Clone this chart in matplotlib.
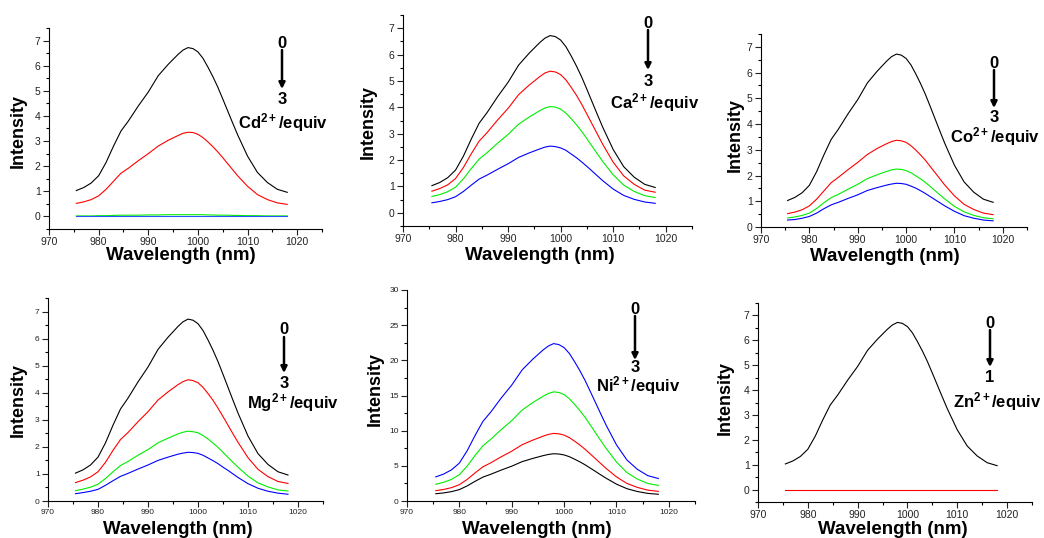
import matplotlib
matplotlib.use('Agg')
import matplotlib.pyplot as plt
from matplotlib.ticker import MultipleLocator

plt.rcParams['font.family'] = ['Liberation Sans', 'DejaVu Sans']
plt.rcParams['mathtext.fontset'] = 'custom'
plt.rcParams['mathtext.rm'] = 'Liberation Sans:bold'
plt.rcParams['mathtext.it'] = 'Liberation Sans:bold'
plt.rcParams['mathtext.bf'] = 'Liberation Sans:bold'
plt.rcParams['mathtext.default'] = 'bf'

# wavelength grid (nm)
wavelength = [975.5, 977, 978.5, 980, 981.5, 983, 984.5, 986, 988, 990, 992, 994,
              996, 997, 998, 999, 1000, 1001, 1002, 1003, 1004, 1005, 1006, 1007,
              1008, 1010, 1012, 1014, 1016, 1018]

# free probe (0 equiv), identical in every panel
probe = [1.03, 1.15, 1.33, 1.62, 2.15, 2.80, 3.40, 3.80, 4.40, 4.95, 5.60, 6.05,
         6.45, 6.62, 6.72, 6.68, 6.55, 6.30, 5.95, 5.57, 5.15, 4.68, 4.20, 3.72,
         3.25, 2.40, 1.75, 1.35, 1.08, 0.96]

cd_red = [0.52, 0.58, 0.67, 0.82, 1.08, 1.40, 1.72, 1.92, 2.22, 2.50, 2.80, 3.03,
          3.22, 3.31, 3.35, 3.34, 3.27, 3.14, 2.97, 2.78, 2.57, 2.34, 2.10, 1.86,
          1.62, 1.20, 0.87, 0.67, 0.54, 0.48]
cd_green = [0.02, 0.02, 0.02, 0.03, 0.03, 0.04, 0.05, 0.05, 0.05, 0.06, 0.06, 0.07,
            0.07, 0.07, 0.07, 0.07, 0.07, 0.07, 0.06, 0.06, 0.05, 0.05, 0.05, 0.04,
            0.04, 0.03, 0.03, 0.02, 0.02, 0.02]
cd_blue = [0.01] * 30

ca_red = [0.82, 0.92, 1.06, 1.30, 1.72, 2.24, 2.72, 3.04, 3.52, 3.96, 4.48, 4.84,
          5.16, 5.30, 5.37, 5.34, 5.24, 5.04, 4.76, 4.46, 4.12, 3.74, 3.36, 2.98,
          2.60, 1.92, 1.40, 1.08, 0.86, 0.78]
ca_green = [0.62, 0.69, 0.80, 0.97, 1.29, 1.68, 2.04, 2.28, 2.64, 2.97, 3.36, 3.63,
            3.87, 3.97, 4.03, 4.01, 3.93, 3.78, 3.57, 3.34, 3.09, 2.81, 2.52, 2.23,
            1.95, 1.44, 1.05, 0.81, 0.65, 0.58]
ca_blue = [0.38, 0.43, 0.50, 0.61, 0.81, 1.05, 1.28, 1.43, 1.65, 1.86, 2.10, 2.27,
           2.42, 2.49, 2.53, 2.51, 2.46, 2.37, 2.23, 2.09, 1.93, 1.76, 1.58, 1.40,
           1.22, 0.90, 0.66, 0.51, 0.41, 0.36]

co_red = [0.52, 0.58, 0.67, 0.82, 1.08, 1.40, 1.72, 1.93, 2.23, 2.51, 2.82, 3.05,
          3.24, 3.32, 3.37, 3.35, 3.29, 3.16, 2.99, 2.80, 2.59, 2.35, 2.11, 1.87,
          1.63, 1.21, 0.88, 0.68, 0.54, 0.48]
co_green = [0.35, 0.39, 0.45, 0.54, 0.72, 0.94, 1.14, 1.27, 1.47, 1.66, 1.88, 2.03,
            2.16, 2.22, 2.25, 2.24, 2.19, 2.11, 1.99, 1.87, 1.73, 1.57, 1.41, 1.25,
            1.09, 0.80, 0.59, 0.45, 0.36, 0.32]
co_blue = [0.27, 0.29, 0.34, 0.41, 0.54, 0.71, 0.86, 0.96, 1.11, 1.25, 1.42, 1.53,
           1.63, 1.67, 1.70, 1.69, 1.66, 1.59, 1.51, 1.41, 1.30, 1.18, 1.06, 0.94,
           0.82, 0.61, 0.44, 0.34, 0.27, 0.24]

mg_red = [0.68, 0.77, 0.89, 1.08, 1.43, 1.87, 2.27, 2.53, 2.93, 3.30, 3.73, 4.03,
          4.30, 4.41, 4.48, 4.45, 4.37, 4.20, 3.97, 3.72, 3.43, 3.12, 2.80, 2.48,
          2.17, 1.60, 1.17, 0.90, 0.72, 0.65]
mg_green = [0.38, 0.44, 0.51, 0.62, 0.83, 1.08, 1.31, 1.46, 1.69, 1.90, 2.15, 2.32,
            2.48, 2.54, 2.58, 2.56, 2.52, 2.42, 2.29, 2.14, 1.98, 1.80, 1.61, 1.43,
            1.25, 0.92, 0.67, 0.52, 0.41, 0.37]
mg_blue = [0.27, 0.31, 0.36, 0.43, 0.58, 0.75, 0.91, 1.02, 1.18, 1.33, 1.50, 1.62,
           1.73, 1.77, 1.80, 1.79, 1.76, 1.69, 1.59, 1.49, 1.38, 1.25, 1.13, 1.00,
           0.87, 0.64, 0.47, 0.36, 0.29, 0.25]

ni_red = [1.47, 1.64, 1.90, 2.32, 3.07, 4.00, 4.86, 5.43, 6.29, 7.08, 8.01, 8.65,
          9.22, 9.47, 9.61, 9.55, 9.37, 9.01, 8.51, 7.97, 7.36, 6.69, 6.01, 5.32,
          4.65, 3.43, 2.50, 1.93, 1.54, 1.37]
ni_green = [2.38, 2.66, 3.07, 3.74, 4.97, 6.47, 7.85, 8.78, 10.16, 11.43, 12.94, 13.98,
            14.90, 15.29, 15.52, 15.43, 15.13, 14.55, 13.74, 12.87, 11.90, 10.81, 9.70, 8.59,
            7.51, 5.54, 4.04, 3.12, 2.49, 2.22]
ni_blue = [3.43, 3.83, 4.43, 5.39, 7.16, 9.32, 11.32, 12.65, 14.65, 16.48, 18.65, 20.15,
           21.48, 22.04, 22.38, 22.24, 21.81, 20.98, 19.81, 18.55, 17.15, 15.58, 13.99, 12.39,
           10.82, 7.99, 5.83, 4.50, 3.60, 3.20]

zn_red = [0.0] * 30

W, H = 1044, 538


def fx(x):
    return x / W


def fy(y):
    return 1 - y / H


def make_panel(fig, box, series, ylim, ymajor, yminor, tick_fs, ylab_xy, xlab_xy,
               ann, ion, end_label):
    left, right, top, bottom = box
    ax = fig.add_axes([fx(left), fy(bottom), (right - left) / W, (bottom - top) / H])
    for ys, c in series:
        ax.plot(wavelength, ys, color=c, lw=0.8)
    ax.set_xlim(970, 1025)
    ax.set_ylim(*ylim)
    ax.xaxis.set_major_locator(MultipleLocator(10))
    ax.xaxis.set_minor_locator(MultipleLocator(5))
    ax.yaxis.set_major_locator(MultipleLocator(ymajor))
    ax.yaxis.set_minor_locator(MultipleLocator(yminor))
    ax.spines['top'].set_visible(False)
    ax.spines['right'].set_visible(False)
    ax.tick_params(which='major', direction='out', length=4, width=0.8,
                   labelsize=tick_fs, pad=2, colors='#222222')
    ax.tick_params(which='minor', direction='out', length=2, width=0.8)
    ax.patch.set_alpha(0)

    fig.text(fx(xlab_xy[0]), fy(xlab_xy[1]), 'Wavelength (nm)', ha='center',
             va='center', fontsize=13.5, fontweight='bold')
    fig.text(fx(ylab_xy[0]), fy(ylab_xy[1]), 'Intensity', ha='center', va='center',
             rotation=90, fontsize=13, fontweight='bold')

    # "0 -> n  Ion/equiv" annotation
    ax_x, y0, y_tip, y_end, y_lab, x_lab = ann
    fig.text(fx(ax_x), fy(y0), '0', ha='center', va='center', fontsize=12,
             fontweight='bold')
    fig.text(fx(ax_x), fy(y_end), end_label, ha='center', va='center', fontsize=12,
             fontweight='bold')
    fig.text(fx(x_lab), fy(y_lab), '$' + ion + '^{2+}/equiv$', ha='center',
             va='center', fontsize=12)
    ax.annotate('', xy=(fx(ax_x), fy(y_tip)), xycoords='figure fraction',
                xytext=(fx(ax_x), fy(y0 + 7)), textcoords='figure fraction',
                arrowprops=dict(arrowstyle='-|>', lw=1.8, color='black',
                                mutation_scale=9, shrinkA=0, shrinkB=0))
    return ax


fig = plt.figure(figsize=(W / 100, H / 100), dpi=100)

make_panel(fig, (49, 322, 28, 229),
           [(probe, 'black'), (cd_red, 'red'), (cd_green, '#00ee00'), (cd_blue, '#3050ff')],
           (-0.5, 7.5), 1, 0.5, 7.5, (18, 131), (181, 256),
           (282, 43, 89, 100, 123, 283), 'Cd', '3')
make_panel(fig, (403, 692, 15, 226),
           [(probe, 'black'), (ca_red, 'red'), (ca_green, '#00ee00'), (ca_blue, 'blue')],
           (-0.5, 7.5), 1, 0.5, 7.5, (368, 122), (540, 256),
           (648, 23, 70, 81, 103, 655), 'Ca', '3')
make_panel(fig, (761, 1027, 34, 227),
           [(probe, 'black'), (co_red, 'red'), (co_green, '#00ee00'), (co_blue, 'blue')],
           (0, 7.5), 1, 0.5, 7.5, (735, 135), (885, 257),
           (994, 63, 108, 117, 137, 995), 'Co', '3')
make_panel(fig, (48, 323, 298, 501),
           [(probe, 'black'), (mg_red, 'red'), (mg_green, '#00ee00'), (mg_blue, 'blue')],
           (0, 7.5), 1, 0.5, 6, (18, 400), (178, 529),
           (284, 330, 373, 383, 403, 293), 'Mg', '3')
make_panel(fig, (407, 695, 290, 501),
           [(probe, 'black'), (ni_red, 'red'), (ni_green, '#00ee00'), (ni_blue, 'blue')],
           (0, 30), 5, 2.5, 6, (375, 389), (537, 529),
           (635, 309, 360, 367, 386, 638), 'Ni', '3')
make_panel(fig, (758, 1032, 303, 502),
           [(probe, 'black'), (zn_red, 'red')],
           (-0.5, 7.5), 1, 0.5, 7.5, (725, 398), (893, 529),
           (990, 323, 367, 378, 402, 997), 'Zn', '1')

fig.savefig('out.png', dpi=100)
